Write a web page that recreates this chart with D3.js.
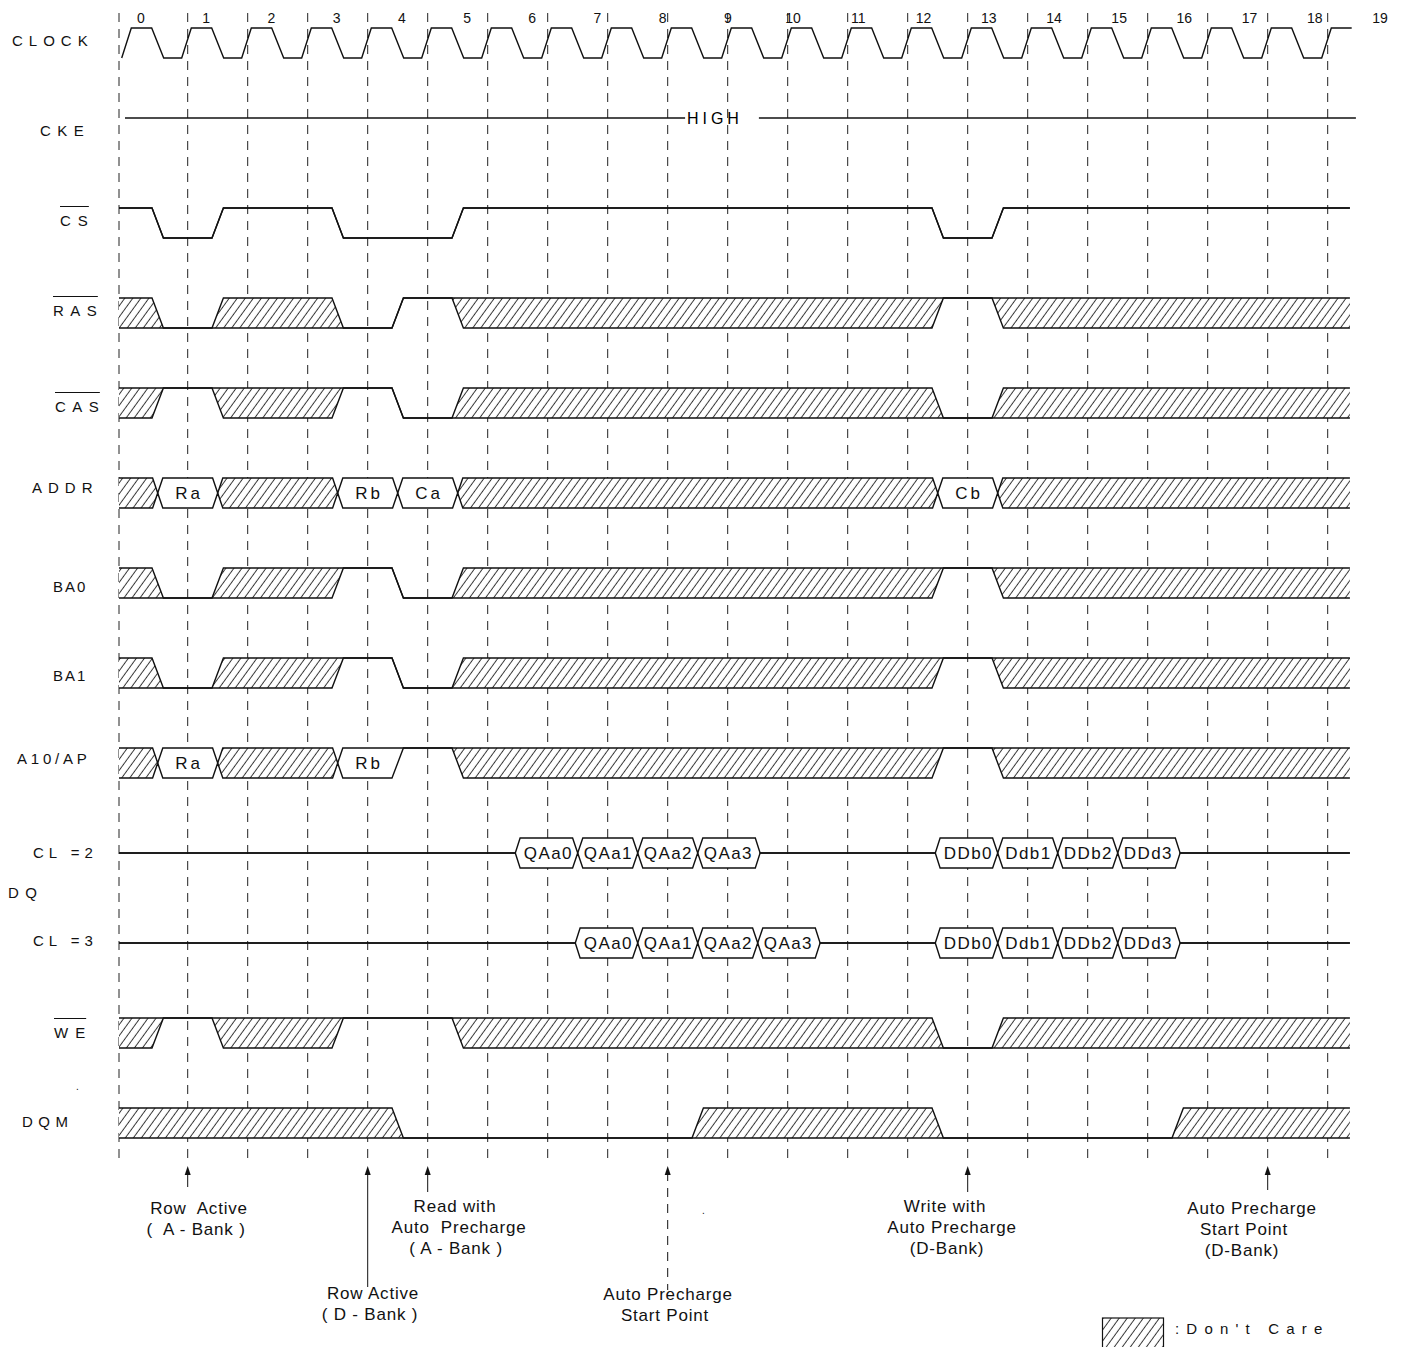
<!DOCTYPE html>
<html>
<head>
<meta charset="utf-8">
<style>
  body { margin: 0; background: #fff; }
  svg { display: block; font-family: "Liberation Sans", Arial, sans-serif; }
  .trace { fill: none; stroke: #111; stroke-width: 1.4; }
  .grid { stroke: #222; stroke-width: 1; stroke-dasharray: 9,7; }
  .sig { font-size: 15px; fill: #111; }
  .bus { font-size: 17px; fill: #111; text-anchor: middle; }
  .note { font-size: 17px; fill: #111; text-anchor: middle; letter-spacing: 0.8px; white-space: pre; }
  .tick { font-size: 14px; fill: #111; text-anchor: middle; }
</style>
</head>
<body>
<svg width="1407" height="1347"></svg>
<script src="https://cdn.jsdelivr.net/npm/d3@7"></script>
<script>

// ---- data ----
var tickLabels = ["0","1","2","3","4","5","6","7","8","9","10","11","12","13","14","15","16","17","18","19"];
var gridTimes = [1,2,3,4,5,6,7,8,9,10,11,12,13,14,15,16,17,18,19,20];
var clockCycles = [0,1,2,3,4,5,6,7,8,9,10,11,12,13,14,15,16,17,18,19,20];
var rowLabels = ["CLOCK","CKE","CS","RAS","CAS","ADDR","BA0","BA1","A10/AP","CL =2","DQ","CL =3","WE","DQM"];

// [time of transition, state, value]  H high, L low, X don't care, V valid bus, Z floating
var ckeSpans = [[-0.045, 9.29], [10.52, 20.47]];
var csWave   = [[-0.145,"H"],[0.5,"L"],[1.5,"H"],[3.5,"L"],[5.5,"H"],[13.5,"L"],[14.5,"H"]];
var rasWave  = [[-0.145,"X"],[0.5,"L"],[1.5,"X"],[3.5,"L"],[4.5,"H"],[5.5,"X"],[13.5,"H"],[14.5,"X"]];
var casWave  = [[-0.145,"X"],[0.5,"H"],[1.5,"X"],[3.5,"H"],[4.5,"L"],[5.5,"X"],[13.5,"L"],[14.5,"X"]];
var addrWave = [[-0.145,"X"],[0.5,"V","Ra"],[1.5,"X"],[3.5,"V","Rb"],[4.5,"V","Ca"],[5.5,"X"],[13.5,"V","Cb"],[14.5,"X"]];
var ba0Wave  = [[-0.145,"X"],[0.5,"L"],[1.5,"X"],[3.5,"H"],[4.5,"L"],[5.5,"X"],[13.5,"H"],[14.5,"X"]];
var ba1Wave  = [[-0.145,"X"],[0.5,"L"],[1.5,"X"],[3.5,"H"],[4.5,"L"],[5.5,"X"],[13.5,"H"],[14.5,"X"]];
var a10Wave  = [[-0.145,"X"],[0.5,"V","Ra"],[1.5,"X"],[3.5,"V","Rb"],[4.5,"H"],[5.5,"X"],[13.5,"H"],[14.5,"X"]];
var dqCl2Wave = [[-0.145,"Z"],[6.5,"V","QAa0"],[7.5,"V","QAa1"],[8.5,"V","QAa2"],[9.5,"V","QAa3"],[10.5,"Z"],
                 [13.5,"V","DDb0"],[14.5,"V","Ddb1"],[15.5,"V","DDb2"],[16.5,"V","DDd3"],[17.5,"Z"]];
var dqCl3Wave = [[-0.145,"Z"],[7.5,"V","QAa0"],[8.5,"V","QAa1"],[9.5,"V","QAa2"],[10.5,"V","QAa3"],[11.5,"Z"],
                 [13.5,"V","DDb0"],[14.5,"V","Ddb1"],[15.5,"V","DDb2"],[16.5,"V","DDd3"],[17.5,"Z"]];
var weWave   = [[-0.145,"X"],[0.5,"H"],[1.5,"X"],[3.5,"H"],[5.5,"X"],[13.5,"L"],[14.5,"X"]];
var dqmWave  = [[-0.145,"X"],[4.5,"L"],[9.5,"X"],[13.5,"L"],[17.5,"X"]];

var noteTimes = [1, 4, 5, 9, 14, 19];
var noteLines = [
  ["Row  Active", "(  A - Bank )"],
  ["Row Active", "( D - Bank )"],
  ["Read with", "Auto  Precharge", "( A - Bank )"],
  ["Auto Precharge", "Start Point"],
  ["Write with", "Auto Precharge", "(D-Bank)"],
  ["Auto Precharge", "Start Point", "(D-Bank)"]
];

// ---- layout ----
var svg = d3.select("svg");
var tStart = -0.145, tEnd = 20.37;
var x = d3.scaleLinear().domain([0, 20]).range([127.7, 1327.7]);
var row = d3.scaleLinear().domain([0, 12]).range([28, 1108]);
var tickX = d3.scaleLinear().domain([0, 19]).range([141, 1380]);
var amp = 30;
var line = d3.line().x(function(d) { return x(d[0]); }).y(function(d) { return d[1]; });

var defs = svg.append("defs");
var pat = defs.append("pattern")
    .attr("id", "hatch")
    .attr("patternUnits", "userSpaceOnUse")
    .attr("width", 6.5).attr("height", 6.5)
    .attr("patternTransform", "rotate(36)");
pat.append("rect").attr("width", 6.5).attr("height", 6.5).attr("fill", "#fff");
pat.append("line").attr("x1", 3.2).attr("x2", 3.2).attr("y1", -1).attr("y2", 8)
    .attr("stroke", "#222").attr("stroke-width", 0.9);

// grid
var grid = svg.append("g");
grid.selectAll("line")
  .data([tStart].concat(gridTimes))
  .join("line")
    .attr("class", "grid")
    .attr("x1", function(d) { return x(d); })
    .attr("x2", function(d) { return x(d); })
    .attr("y1", 13)
    .attr("y2", 1163);

// tick labels
svg.append("g").selectAll("text")
  .data(tickLabels)
  .join("text")
    .attr("class", "tick")
    .attr("x", function(d, i) { return tickX(i); })
    .attr("y", 22.5)
    .text(function(d) { return d; });

// clock
var hiC = row(0), loC = row(0) + amp;
var clk = [[-0.1, loC]];
clockCycles.forEach(function(k) {
  clk.push([k - 0.1, loC], [k + 0.06, hiC], [k + 0.4, hiC]);
  if (k < clockCycles[clockCycles.length - 1]) clk.push([k + 0.6, loC]);
});
svg.append("path").attr("class", "trace").attr("d", line(clk));

// cke
svg.append("g").selectAll("path")
  .data(ckeSpans)
  .join("path")
    .attr("class", "trace")
    .attr("d", function(d) { return line([[d[0], row(1)], [d[1], row(1)]]); });
svg.append("text")
    .attr("x", x(9.32)).attr("y", row(1) + 6)
    .style("font-size", "16px").style("letter-spacing", "4px")
    .text("HIGH");

function wide(s) { return s === "X" || s === "V"; }
function tw(a, b) {
  if (a === "Z" || b === "Z") return 0.08;
  if (wide(a) && wide(b)) return 0.17;
  return 0.19;
}

function drawWave(wave, top) {
  var hi = top, lo = top + amp, mid = top + amp / 2;
  var up = {H: hi, L: lo, Z: mid, X: hi, V: hi};
  var dn = {H: hi, L: lo, Z: mid, X: lo, V: lo};
  var segs = wave.map(function(d) { return {t: d[0], s: d[1], label: d[2]}; });
  segs.forEach(function(d, i) {
    if (i === 0) { d.p = d.q = d.c = d.t; return; }
    var w = tw(segs[i - 1].s, d.s);
    d.c = d.t; d.p = d.t - w / 2; d.q = d.t + w / 2;
  });
  var g = svg.append("g");

  // filled regions first
  segs.forEach(function(d, i) {
    if (!wide(d.s)) return;
    var prev = segs[i - 1], next = segs[i + 1];
    var U = [], L = [];
    if (!prev) { U.push([d.t, hi]); L.push([d.t, lo]); }
    else if (wide(prev.s)) { U.push([d.c, mid], [d.q, hi]); L.push([d.c, mid], [d.q, lo]); }
    else { var P = [d.p, up[prev.s]]; U.push(P, [d.q, hi]); L.push(P, [d.q, lo]); }
    if (!next) { U.push([tEnd, hi]); L.push([tEnd, lo]); }
    else if (wide(next.s)) { U.push([next.p, hi], [next.c, mid]); L.push([next.p, lo], [next.c, mid]); }
    else { var Q = [next.q, up[next.s]]; U.push([next.p, hi], Q); L.push([next.p, lo], Q); }
    g.append("path")
        .attr("d", line(U.concat(L.reverse())) + "Z")
        .attr("fill", d.s === "X" ? "url(#hatch)" : "#fff")
        .attr("stroke", "none");
    if (d.s === "V") {
      var end = next ? next.c : tEnd;
      g.append("text")
          .attr("class", "bus")
          .attr("x", (x(d.c) + x(end)) / 2 + (d.label.length < 3 ? 1.5 : 0.7))
          .attr("y", mid + 6)
          .style("letter-spacing", d.label.length < 3 ? "3px" : "1.4px")
          .text(d.label);
    }
  });

  // upper and lower traces
  var upper = [[segs[0].t, up[segs[0].s]]], lower = [[segs[0].t, dn[segs[0].s]]];
  for (var i = 1; i < segs.length; i++) {
    var a = segs[i - 1], b = segs[i];
    upper.push([b.p, up[a.s]]); lower.push([b.p, dn[a.s]]);
    if (wide(a.s) && wide(b.s)) { upper.push([b.c, mid]); lower.push([b.c, mid]); }
    upper.push([b.q, up[b.s]]); lower.push([b.q, dn[b.s]]);
  }
  var last = segs[segs.length - 1];
  upper.push([tEnd, up[last.s]]); lower.push([tEnd, dn[last.s]]);
  g.append("path").attr("class", "trace").attr("d", line(upper));
  g.append("path").attr("class", "trace").attr("d", line(lower));
}

[[2, csWave], [3, rasWave], [4, casWave], [5, addrWave], [6, ba0Wave], [7, ba1Wave],
 [8, a10Wave], [9, dqCl2Wave], [10, dqCl3Wave], [11, weWave], [12, dqmWave]]
  .forEach(function(r) { drawWave(r[1], row(r[0])); });

// signal names
var labelLayout = {
  "CLOCK": {x: 12, y: 40, ls: 6},
  "CKE": {x: 40, y: 130, ls: 6.5},
  "CS": {x: 60, y: 220, ls: 7, over: true},
  "RAS": {x: 53, y: 310, ls: 6.5, over: true},
  "CAS": {x: 55, y: 406, ls: 6.5, over: true},
  "ADDR": {x: 32, y: 487, ls: 6},
  "BA0": {x: 53, y: 586, ls: 2},
  "BA1": {x: 53, y: 675, ls: 2},
  "A10/AP": {x: 17, y: 758, ls: 3.8},
  "CL =2": {x: 33, y: 852, ls: 5},
  "DQ": {x: 8, y: 892, ls: 6.5},
  "CL =3": {x: 33, y: 940, ls: 5},
  "WE": {x: 54, y: 1032, ls: 7, over: true},
  "DQM": {x: 22, y: 1121, ls: 5.5}
};
var lg = svg.append("g");
rowLabels.forEach(function(name) {
  var L = labelLayout[name];
  var t = lg.append("text")
      .attr("class", "sig")
      .attr("x", L.x).attr("y", L.y + 5.5)
      .style("letter-spacing", L.ls + "px")
      .style("white-space", "pre")
      .text(name);
  if (L.over) {
    var w = t.node().getComputedTextLength() - L.ls;
    lg.append("line")
        .attr("x1", L.x).attr("x2", L.x + w + 1)
        .attr("y1", L.y - 13.5).attr("y2", L.y - 13.5)
        .attr("stroke", "#111").attr("stroke-width", 1);
  }
});
lg.append("text").attr("class", "sig").attr("x", 76).attr("y", 1090).style("font-size", "10px").text(".");
svg.append("text").attr("class", "sig").attr("x", 702).attr("y", 1214).style("font-size", "10px").text(".");

// annotations
var noteLayout = [
  {tail: 1187, y0: 1208, cx: [199, 196], dashed: false},
  {tail: 1287, y0: 1293, cx: [373, 370], dashed: false},
  {tail: 1192, y0: 1206, cx: [455, 459, 456], dashed: false},
  {tail: 1290, y0: 1294, cx: [668, 665], dashed: true},
  {tail: 1192, y0: 1206, cx: [945, 952, 947], dashed: false},
  {tail: 1190, y0: 1208, cx: [1252, 1244, 1242], dashed: false}
];
var ng = svg.append("g");
noteTimes.forEach(function(t, i) {
  var L = noteLayout[i], xx = x(t), tip = 1166;
  ng.append("line")
      .attr("x1", xx).attr("x2", xx)
      .attr("y1", tip + 6).attr("y2", L.tail)
      .attr("stroke", "#111").attr("stroke-width", 1)
      .attr("stroke-dasharray", L.dashed ? "9,7" : null);
  ng.append("path")
      .attr("d", "M" + xx + "," + tip + "L" + (xx - 3) + "," + (tip + 9) + "L" + (xx + 3) + "," + (tip + 9) + "Z")
      .attr("fill", "#111");
  noteLines[i].forEach(function(s, j) {
    ng.append("text")
        .attr("class", "note")
        .attr("x", L.cx[j]).attr("y", L.y0 + j * 21 + 6)
        .text(s);
  });
});

// legend
svg.append("rect")
    .attr("x", 1102.5).attr("y", 1318).attr("width", 61).attr("height", 32)
    .attr("fill", "url(#hatch)").attr("stroke", "#111").attr("stroke-width", 1.2);
svg.append("text")
    .attr("x", 1175).attr("y", 1334)
    .style("font-size", "15px").style("letter-spacing", "7.2px").style("fill", "#111")
    .text(":Don't Care");

</script>
</body>
</html>
